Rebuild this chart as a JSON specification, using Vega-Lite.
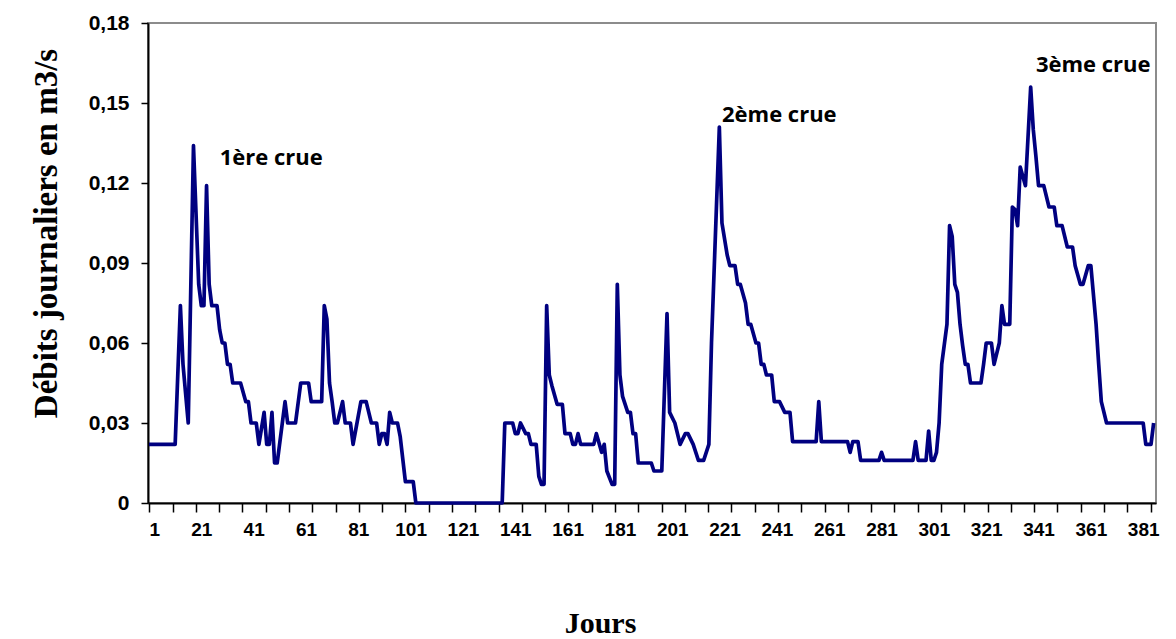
{
  "$schema": "https://vega.github.io/schema/vega-lite/v6.json",
  "width": 1008,
  "height": 480,
  "autosize": {"type": "none"},
  "padding": {"left": 148, "top": 23, "right": 20, "bottom": 136},
  "background": "white",
  "config": {"view": {"stroke": "#8c8c8c", "strokeWidth": 2}, "axis": {"grid": false}},
  "datasets": {
    "flow": [
      {"jour":1,"debit":0.022},{"jour":11,"debit":0.022},{"jour":13,"debit":0.074},{"jour":14,"debit":0.052},{"jour":16,"debit":0.030},{"jour":18,"debit":0.134},{"jour":20,"debit":0.082},{"jour":21,"debit":0.074},{"jour":22,"debit":0.074},{"jour":23,"debit":0.119},{"jour":24,"debit":0.082},{"jour":25,"debit":0.074},{"jour":27,"debit":0.074},{"jour":28,"debit":0.065},{"jour":29,"debit":0.060},{"jour":30,"debit":0.060},{"jour":31,"debit":0.052},{"jour":32,"debit":0.052},{"jour":33,"debit":0.045},{"jour":36,"debit":0.045},{"jour":38,"debit":0.038},{"jour":39,"debit":0.038},{"jour":40,"debit":0.030},{"jour":42,"debit":0.030},{"jour":43,"debit":0.022},{"jour":45,"debit":0.034},{"jour":46,"debit":0.022},{"jour":47,"debit":0.022},{"jour":48,"debit":0.034},{"jour":49,"debit":0.015},{"jour":50,"debit":0.015},{"jour":53,"debit":0.038},{"jour":54,"debit":0.030},{"jour":57,"debit":0.030},{"jour":59,"debit":0.045},{"jour":62,"debit":0.045},{"jour":63,"debit":0.038},{"jour":67,"debit":0.038},{"jour":68,"debit":0.074},{"jour":69,"debit":0.069},{"jour":70,"debit":0.045},{"jour":71,"debit":0.038},{"jour":72,"debit":0.030},{"jour":73,"debit":0.030},{"jour":75,"debit":0.038},{"jour":76,"debit":0.030},{"jour":78,"debit":0.030},{"jour":79,"debit":0.022},{"jour":82,"debit":0.038},{"jour":84,"debit":0.038},{"jour":86,"debit":0.030},{"jour":88,"debit":0.030},{"jour":89,"debit":0.022},{"jour":90,"debit":0.026},{"jour":91,"debit":0.026},{"jour":92,"debit":0.022},{"jour":93,"debit":0.034},{"jour":94,"debit":0.030},{"jour":96,"debit":0.030},{"jour":97,"debit":0.025},{"jour":99,"debit":0.008},{"jour":102,"debit":0.008},{"jour":103,"debit":0},{"jour":136,"debit":0},{"jour":137,"debit":0.030},{"jour":140,"debit":0.030},{"jour":141,"debit":0.026},{"jour":142,"debit":0.026},{"jour":143,"debit":0.030},{"jour":145,"debit":0.026},{"jour":146,"debit":0.026},{"jour":147,"debit":0.022},{"jour":149,"debit":0.022},{"jour":150,"debit":0.010},{"jour":151,"debit":0.007},{"jour":152,"debit":0.007},{"jour":153,"debit":0.074},{"jour":154,"debit":0.048},{"jour":155,"debit":0.044},{"jour":157,"debit":0.037},{"jour":159,"debit":0.037},{"jour":160,"debit":0.026},{"jour":162,"debit":0.026},{"jour":163,"debit":0.022},{"jour":164,"debit":0.022},{"jour":165,"debit":0.026},{"jour":166,"debit":0.022},{"jour":171,"debit":0.022},{"jour":172,"debit":0.026},{"jour":174,"debit":0.019},{"jour":175,"debit":0.022},{"jour":176,"debit":0.012},{"jour":178,"debit":0.007},{"jour":179,"debit":0.007},{"jour":180,"debit":0.082},{"jour":181,"debit":0.048},{"jour":182,"debit":0.040},{"jour":184,"debit":0.034},{"jour":185,"debit":0.034},{"jour":186,"debit":0.026},{"jour":187,"debit":0.026},{"jour":188,"debit":0.015},{"jour":193,"debit":0.015},{"jour":194,"debit":0.012},{"jour":197,"debit":0.012},{"jour":199,"debit":0.071},{"jour":200,"debit":0.034},{"jour":202,"debit":0.030},{"jour":204,"debit":0.022},{"jour":206,"debit":0.026},{"jour":207,"debit":0.026},{"jour":209,"debit":0.022},{"jour":211,"debit":0.016},{"jour":213,"debit":0.016},{"jour":215,"debit":0.022},{"jour":216,"debit":0.060},{"jour":219,"debit":0.141},{"jour":220,"debit":0.105},{"jour":222,"debit":0.093},{"jour":223,"debit":0.089},{"jour":225,"debit":0.089},{"jour":226,"debit":0.082},{"jour":227,"debit":0.082},{"jour":229,"debit":0.075},{"jour":230,"debit":0.067},{"jour":231,"debit":0.067},{"jour":233,"debit":0.060},{"jour":234,"debit":0.060},{"jour":235,"debit":0.052},{"jour":236,"debit":0.052},{"jour":237,"debit":0.048},{"jour":239,"debit":0.048},{"jour":240,"debit":0.038},{"jour":242,"debit":0.038},{"jour":244,"debit":0.034},{"jour":246,"debit":0.034},{"jour":247,"debit":0.023},{"jour":256,"debit":0.023},{"jour":257,"debit":0.038},{"jour":258,"debit":0.023},{"jour":268,"debit":0.023},{"jour":269,"debit":0.019},{"jour":270,"debit":0.023},{"jour":272,"debit":0.023},{"jour":273,"debit":0.016},{"jour":280,"debit":0.016},{"jour":281,"debit":0.019},{"jour":282,"debit":0.016},{"jour":293,"debit":0.016},{"jour":294,"debit":0.023},{"jour":295,"debit":0.016},{"jour":298,"debit":0.016},{"jour":299,"debit":0.027},{"jour":300,"debit":0.016},{"jour":301,"debit":0.016},{"jour":302,"debit":0.019},{"jour":303,"debit":0.030},{"jour":304,"debit":0.052},{"jour":306,"debit":0.067},{"jour":307,"debit":0.104},{"jour":308,"debit":0.100},{"jour":309,"debit":0.082},{"jour":310,"debit":0.079},{"jour":311,"debit":0.067},{"jour":312,"debit":0.059},{"jour":313,"debit":0.052},{"jour":314,"debit":0.052},{"jour":315,"debit":0.045},{"jour":319,"debit":0.045},{"jour":320,"debit":0.052},{"jour":321,"debit":0.060},{"jour":323,"debit":0.060},{"jour":324,"debit":0.052},{"jour":326,"debit":0.060},{"jour":327,"debit":0.074},{"jour":328,"debit":0.067},{"jour":330,"debit":0.067},{"jour":331,"debit":0.111},{"jour":332,"debit":0.110},{"jour":333,"debit":0.104},{"jour":334,"debit":0.126},{"jour":336,"debit":0.119},{"jour":338,"debit":0.156},{"jour":339,"debit":0.140},{"jour":340,"debit":0.130},{"jour":341,"debit":0.119},{"jour":343,"debit":0.119},{"jour":345,"debit":0.111},{"jour":347,"debit":0.111},{"jour":348,"debit":0.104},{"jour":350,"debit":0.104},{"jour":352,"debit":0.096},{"jour":354,"debit":0.096},{"jour":355,"debit":0.089},{"jour":357,"debit":0.082},{"jour":358,"debit":0.082},{"jour":360,"debit":0.089},{"jour":361,"debit":0.089},{"jour":363,"debit":0.067},{"jour":364,"debit":0.052},{"jour":365,"debit":0.038},{"jour":367,"debit":0.030},{"jour":381,"debit":0.030},{"jour":382,"debit":0.022},{"jour":384,"debit":0.022},{"jour":385,"debit":0.030}
    ],
    "notes": [
      {"jour":28,"debit":0.1294,"label":"1ère crue"},
      {"jour":220,"debit":0.1455,"label":"2ème crue"},
      {"jour":340,"debit":0.1643,"label":"3ème crue"}
    ]
  },
  "layer": [
    {
      "data": {"name": "flow"},
      "mark": {"type": "line", "color": "#000080", "strokeWidth": 3.7, "strokeJoin": "round"},
      "encoding": {
        "x": {
          "field": "jour", "type": "quantitative",
          "scale": {"domain": [0.62, 385.9], "nice": false, "zero": false},
          "axis": {
            "values": [1,1.1,10,18.9,21,27.8,36.7,41,45.6,54.5,61,63.4,72.3,81,81.2,90.1,99,101,107.9,116.8,121,125.7,134.6,141,143.5,152.4,161,161.3,170.2,179.1,181,188,196.9,201,205.8,214.7,221,223.6,232.5,241,241.4,250.3,259.2,261,268.1,277,281,285.9,294.8,301,303.7,312.6,321,321.5,330.4,339.3,341,348.2,357.1,361,366,374.9,381,383.8],
            "tickCount": 200,
            "labelExpr": "datum.value % 20 == 1 ? datum.label : ''",
            "labelOverlap": false,
            "tickOpacity": {"condition": {"test": "datum.value % 20 == 1", "value": 0}, "value": 1},
            "tickColor": "black", "tickWidth": 1.5, "tickSize": 9,
            "domainColor": "black", "domainWidth": 2,
            "labelFont": "Liberation Sans Narrow, Liberation Sans", "labelFontWeight": "bold", "labelFontSize": 19,
            "labelColor": "black", "labelPadding": 8,
            "title": "Jours", "titleFont": "Liberation Serif", "titleFontSize": 30, "titleFontWeight": "bold",
            "titleColor": "black", "titleX": 452, "titleY": 120, "titleBaseline": "middle", "titleAlign": "center"
          }
        },
        "y": {
          "field": "debit", "type": "quantitative",
          "scale": {"domain": [0, 0.18], "nice": false},
          "axis": {
            "values": [0, 0.03, 0.06, 0.09, 0.12, 0.15, 0.18],
            "labelExpr": "datum.value == 0 ? '0' : replace(format(datum.value, '.2f'), '.', ',')",
            "tickColor": "black", "tickWidth": 1.5, "tickSize": 7,
            "domainColor": "black", "domainWidth": 2,
            "labelFont": "Liberation Sans", "labelFontWeight": "bold", "labelFontSize": 21,
            "labelColor": "black", "labelPadding": 12,
            "title": "Débits journaliers en m3/s", "titleFont": "Liberation Serif", "titleFontSize": 33,
            "titleFontWeight": "bold", "titleColor": "black",
            "titleX": -102, "titleY": 210, "titleAngle": -90, "titleAlign": "center", "titleBaseline": "middle"
          }
        }
      }
    },
    {
      "data": {"name": "notes"},
      "mark": {"type": "text", "align": "left", "baseline": "middle", "font": "Open Sans", "fontWeight": "bold", "fontSize": 22, "color": "black"},
      "encoding": {
        "x": {"field": "jour", "type": "quantitative"},
        "y": {"field": "debit", "type": "quantitative"},
        "text": {"field": "label"}
      }
    }
  ]
}
